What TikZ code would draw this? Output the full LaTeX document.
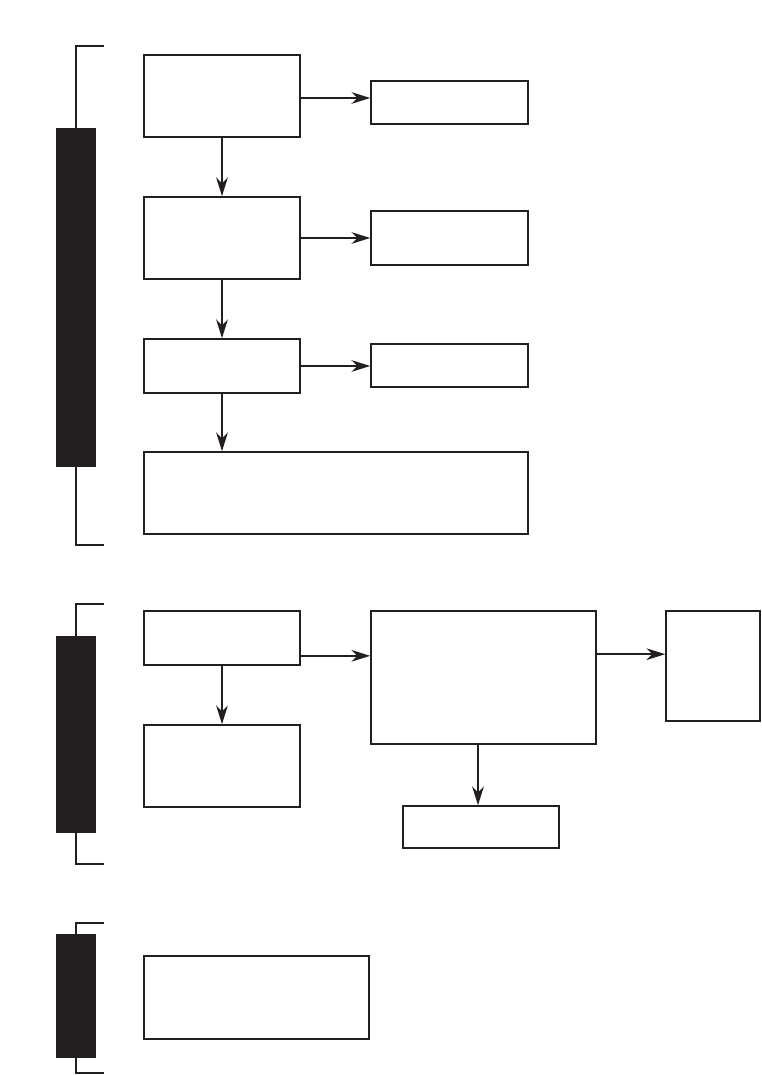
\documentclass[tikz,border=0pt]{standalone}
\usetikzlibrary{arrows.meta}
\definecolor{ink}{HTML}{231F20}
\newlength\pxu
\setlength\pxu{0.03cm}
\tikzset{
  box/.style={draw=ink,line width=1.4pt,inner sep=0pt,fill=white},
  bar/.style={fill=ink},
  brace/.style={draw=ink,line width=1.4pt},
  flow/.style={draw=ink,line width=1.4pt,-{Stealth[length=16pt,width=10pt,inset=5pt]}}
}
\begin{document}
\begin{tikzpicture}[x=1\pxu,y=-1\pxu]
  \useasboundingbox (0,0) rectangle (761,1075);
  % side brackets
  \draw[brace] (104,46) -| (76,545) -- (104,545);
  \draw[brace] (104,604) -| (76,864) -- (104,864);
  \draw[brace] (104,923) -| (76,1073) -- (104,1073);
  \fill[bar] (56,128) rectangle (96,467);
  \fill[bar] (56,636) rectangle (96,833);
  \fill[bar] (56,934) rectangle (96,1058);
  % first group
  \node[box,minimum width=156\pxu,minimum height=82\pxu] (a1) at (222,96) {};
  \node[box,minimum width=157\pxu,minimum height=43\pxu] (b1) at (449.5,102.5) {};
  \node[box,minimum width=156\pxu,minimum height=82\pxu] (a2) at (222,238) {};
  \node[box,minimum width=157\pxu,minimum height=54\pxu] (b2) at (449.5,238) {};
  \node[box,minimum width=156\pxu,minimum height=54\pxu] (a3) at (222,366) {};
  \node[box,minimum width=157\pxu,minimum height=43\pxu] (b3) at (449.5,365.5) {};
  \node[box,minimum width=384\pxu,minimum height=82\pxu] (a4) at (336,493) {};
  \coordinate (a1out) at ([yshift=-2\pxu]a1.east);
  \draw[flow] (a1out) -- (a1out -| b1.west);
  \draw[flow] (a2.east) -- (b2.west);
  \draw[flow] (a3.east) -- (a3.east -| b3.west);
  \draw[flow] (a1.south) -- (a2.north);
  \draw[flow] (a2.south) -- (a3.north);
  \draw[flow] (a3.south) -- (a3.south |- a4.north);
  % second group
  \node[box,minimum width=156\pxu,minimum height=54\pxu] (c1) at (222,638) {};
  \node[box,minimum width=225\pxu,minimum height=133\pxu] (d1) at (483.5,677.5) {};
  \node[box,minimum width=94\pxu,minimum height=110\pxu] (e1) at (713,666) {};
  \node[box,minimum width=156\pxu,minimum height=82\pxu] (c2) at (222,766) {};
  \node[box,minimum width=156\pxu,minimum height=42\pxu] (f1) at (481,827) {};
  \coordinate (c1out) at ([yshift=10\pxu]c1.south east);
  \coordinate (d1out) at ([yshift=-44\pxu]d1.north east);
  \draw[flow] (c1out) -- (c1out -| d1.west);
  \draw[flow] (d1out) -- (d1out -| e1.west);
  \draw[flow] (c1.south) -- (c2.north);
  \draw[flow] ([xshift=-3\pxu]f1.north |- d1.south) -- ([xshift=-3\pxu]f1.north);
  % third group
  \node[box,minimum width=225\pxu,minimum height=83\pxu] (g1) at (256.5,997.5) {};
\end{tikzpicture}
\end{document}
